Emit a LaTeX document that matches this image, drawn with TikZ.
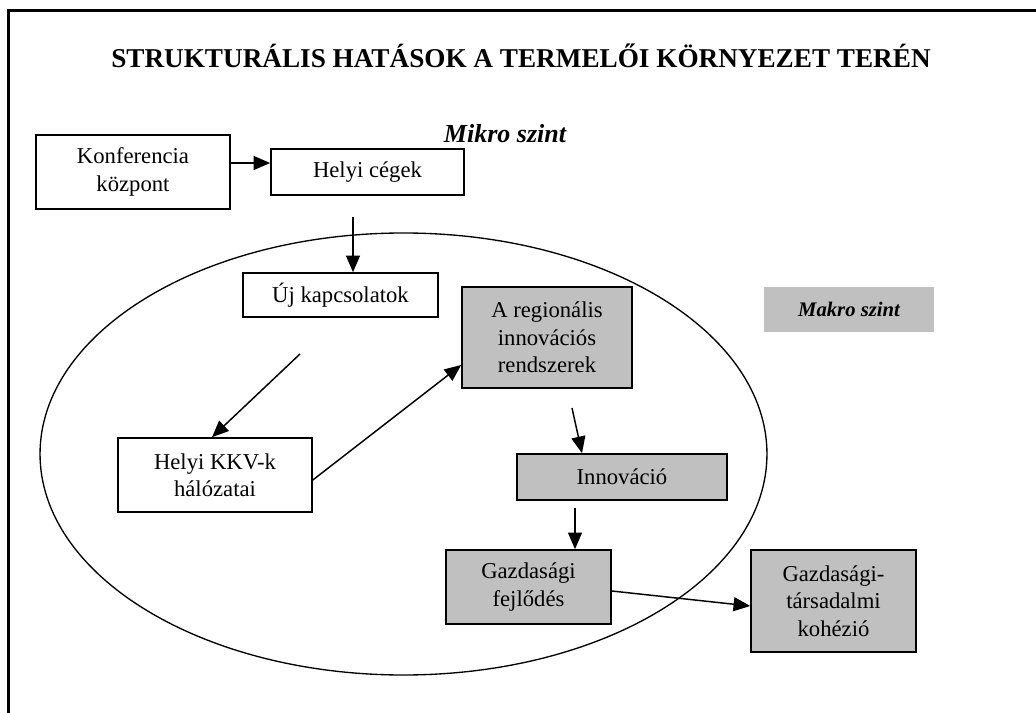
\documentclass[tikz,border=0pt]{standalone}
\usepackage{fontspec}
\setmainfont{Liberation Serif}
\usetikzlibrary{arrows.meta}
\definecolor{boxgray}{HTML}{C0C0C0}
\begin{document}
\begin{tikzpicture}[x=0.75pt,y=-0.75pt,
  box/.style={draw=black, line width=1.2pt, rectangle, inner sep=0pt, align=center,
    font=\fontsize{17}{20.5}\selectfont},
  graybox/.style={box, fill=boxgray},
  arr/.style={line width=1.1pt, -{Triangle[length=12.5pt,width=10.5pt]}},
  frameline/.style={line width=2.4pt},
  levelbold/.style={font=\bfseries\itshape\fontsize{#1}{#1}\selectfont}
]
\useasboundingbox (0,0) rectangle (1036,713);
\fill[white] (0,0) rectangle (1036,713);
% page frame
\draw[frameline] (8.5,720) -- (8.5,10.5) -- (1040,10.5);

% title and level labels
\node[font=\bfseries\fontsize{20.4}{24}\selectfont, anchor=base] (title) at (521,68)
  {STRUKTURÁLIS HATÁSOK A TERMELŐI KÖRNYEZET TERÉN};
\node[levelbold=19.5, anchor=base] (mikro) at (505,143) {Mikro szint};

% the regional ellipse
\draw[line width=1pt] (403.5,454) ellipse [x radius=272.6pt, y radius=165.75pt];

% boxes
\node[box, minimum width=145.5pt, minimum height=55.5pt] (konf) at (133,172) {Konferencia\\központ};
\node[box, minimum width=144.75pt, minimum height=34.5pt] (helyi) at (367.5,172) {Helyi cégek};
\node[box, minimum width=146.25pt, minimum height=33pt] (uj) at (340.5,295) {Új kapcsolatok};
\node[graybox, minimum width=127.5pt, minimum height=75.75pt] (reg) at (547,337.5) {A regionális\\innovációs\\rendszerek};
\node[fill=boxgray, inner sep=0pt, minimum width=127.5pt, minimum height=33.75pt, levelbold=15.5] (makro) at (849,309.5) {Makro szint};
\node[box, minimum width=145.5pt, minimum height=55.5pt] (kkv) at (215,475) {Helyi KKV-k\\hálózatai};
\node[graybox, minimum width=157.5pt, minimum height=34.5pt] (innov) at (622,477) {Innováció};
\node[graybox, minimum width=123.75pt, minimum height=55.5pt] (gazd) at (528.5,587) {Gazdasági\\fejlődés};
\node[graybox, minimum width=123.75pt, minimum height=76.5pt] (koh) at (833.5,601) {Gazdasági-\\társadalmi\\kohézió};

% free arrow tails
\coordinate (t1) at (353,217);
\coordinate (t2) at (300,354);
\coordinate (t3) at (572,408);
\coordinate (t4) at (575,508);

% connectors
\draw[arr] ([yshift=6.75pt]konf.east) -- ([yshift=6.75pt]helyi.west);
\draw[arr] (t1) -- (t1 |- uj.north);
\draw[arr] (t2) -- ([xshift=-2.25pt]kkv.north);
\draw[arr] ([yshift=-3.75pt]kkv.east) -- ([yshift=-20.6pt]reg.west);
\draw[arr] (t3) -- ([xshift=-30pt]innov.north);
\draw[arr] (t4) -- (t4 |- gazd.north);
\draw[arr] ([yshift=-3pt]gazd.east) -- ([yshift=-3.75pt]koh.west);
\end{tikzpicture}
\end{document}
